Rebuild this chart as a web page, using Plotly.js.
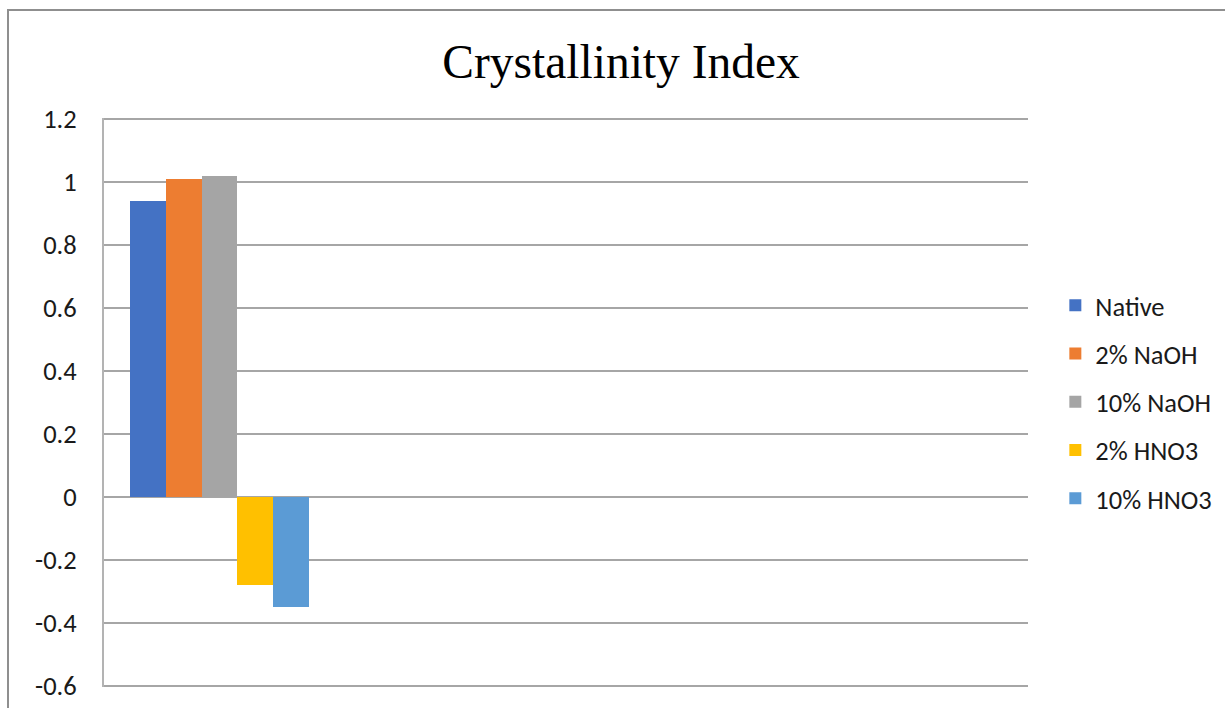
<!DOCTYPE html>
<html>
<head>
<meta charset="utf-8">
<script src="https://cdn.plot.ly/plotly-3.0.1.min.js"></script>
<style>
  html, body { margin: 0; padding: 0; background: #fff; }
  #wrap { position: relative; width: 1225px; height: 708px; overflow: hidden; }
  #frame { position: absolute; left: 7px; top: 9px; width: 1300px; height: 800px;
           border-left: 2px solid #8f8f8f; border-top: 2px solid #8f8f8f; pointer-events: none; }
  #chart { position: absolute; left: 0; top: 0; width: 1225px; height: 708px; }
</style>
</head>
<body>
<div id="wrap">
  <div id="chart"></div>
  <div id="frame"></div>
</div>
<script>
const seriesNames = ["Native", "2% NaOH", "10% NaOH", "2% HNO3", "10% HNO3"];
const seriesValues = [0.94, 1.01, 1.02, -0.28, -0.35];
const seriesColors = ["#4472C4", "#ED7D31", "#A5A5A5", "#FFC000", "#5B9BD5"];
const category = ["Crystallinity Index"];
const yTicks = [-0.6, -0.4, -0.2, 0, 0.2, 0.4, 0.6, 0.8, 1, 1.2];
const yTickText = ["-0.6", "-0.4", "-0.2", "0", "0.2", "0.4", "0.6", "0.8", "1", "1.2"];

const labelFont = "Carlito, Lato, 'Liberation Sans', sans-serif";

const traces = seriesNames.map((name, i) => ({
  type: "bar",
  name: name,
  x: category,
  y: [seriesValues[i]],
  legendgroup: "g" + i,
  marker: { color: seriesColors[i], line: { width: 0 } },
  hoverinfo: "name+y"
}));

const layout = {
  width: 1225,
  height: 708,
  margin: { l: 104, r: 197, t: 118, b: 21 },
  paper_bgcolor: "rgba(0,0,0,0)",
  plot_bgcolor: "#ffffff",
  barmode: "group",
  bargap: 0,
  bargroupgap: 0,
  title: {
    text: "Crystallinity Index",
    font: { family: "'Times New Roman', 'Liberation Serif', serif", size: 47.5, color: "#000" },
    xref: "container", yref: "container",
    x: 0.507, xanchor: "center",
    y: 0.914, yanchor: "middle"
  },
  xaxis: {
    type: "category",
    range: [-0.645, 4.517],
    showticklabels: false,
    showgrid: false,
    zeroline: false,
    showline: false,
    ticks: ""
  },
  yaxis: {
    range: [-0.6032, 1.2032],
    tickvals: yTicks,
    ticktext: yTickText,
    showgrid: true,
    gridcolor: "#a6a6a6",
    gridwidth: 1.3,
    zeroline: false,
    showline: true,
    linecolor: "#b3b3b3",
    linewidth: 2,
    ticks: "",
    ticklabelstandoff: 20,
    tickfont: { family: labelFont, size: 26.5, color: "#1a1a1a" }
  },
  showlegend: true,
  legend: {
    xref: "container", yref: "container",
    x: 0.8615, xanchor: "left",
    y: 0.432, yanchor: "middle",
    traceorder: "grouped",
    tracegroupgap: 10.75,
    font: { family: labelFont, size: 26.5, color: "#1a1a1a" },
    bgcolor: "rgba(0,0,0,0)",
    borderwidth: 0
  }
};

Plotly.newPlot("chart", traces, layout, { displayModeBar: false, staticPlot: true });
</script>
</body>
</html>
